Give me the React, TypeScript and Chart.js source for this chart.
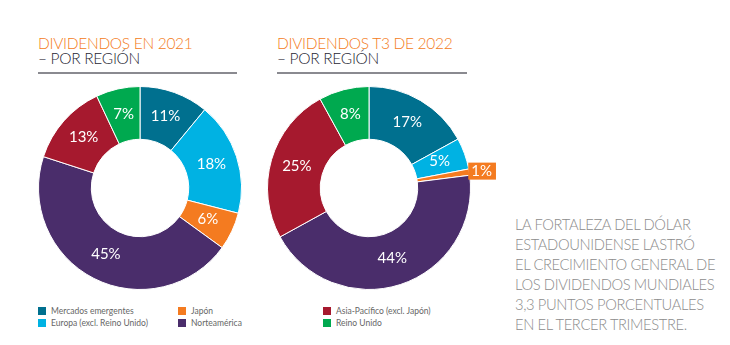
import React, { useEffect, useRef } from "react";
import { Chart, registerables } from "chart.js";

Chart.register(...registerables);

const categories = [
  "Mercados emergentes",
  "Europa (excl. Reino Unido)",
  "Japón",
  "Norteamérica",
  "Asia-Pacífico (excl. Japón)",
  "Reino Unido",
];
const values2021 = [11, 18, 6, 45, 13, 7];
const valuesQ3_2022 = [17, 5, 1, 44, 25, 8];
const colors = ["#00708f", "#00b2e3", "#f47b20", "#4a2d6b", "#a6192e", "#00a94f"];
const legendOrder = [0, 1, 2, 3, 4, 5];
const titles = [
  ["DIVIDENDOS EN 2021", "– POR REGIÓN"],
  ["DIVIDENDOS T3 DE 2022", "– POR REGIÓN"],
];
const sideText = [
  "LA FORTALEZA DEL DÓLAR",
  "ESTADOUNIDENSE LASTRÓ",
  "EL CRECIMIENTO GENERAL DE",
  "LOS DIVIDENDOS MUNDIALES",
  "3,3 PUNTOS PORCENTUALES",
  "EN EL TERCER TRIMESTRE.",
];

const FONT = "Lato, 'Open Sans', sans-serif";

const labelPlugin = {
  id: "sliceLabels",
  afterDatasetsDraw(chart: any) {
    const ctx = chart.ctx;
    const meta = chart.getDatasetMeta(0);
    const data = chart.data.datasets[0].data as number[];
    const bg = chart.data.datasets[0].backgroundColor as string[];
    ctx.save();
    ctx.font = `400 15px ${FONT}`;
    ctx.textBaseline = "middle";
    meta.data.forEach((arc: any, i: number) => {
      const v = data[i];
      const text = `${v}%`;
      if (v < 3) {
        const mid = (arc.startAngle + arc.endAngle) / 2;
        const ox = arc.x + Math.cos(mid) * arc.outerRadius;
        const oy = arc.y + Math.sin(mid) * arc.outerRadius;
        const w = ctx.measureText(text).width + 7;
        const h = 17;
        ctx.fillStyle = bg[i];
        ctx.fillRect(ox - 1, oy - h / 2 - 1, w, h);
        ctx.fillStyle = "#ffffff";
        ctx.textAlign = "left";
        ctx.fillText(text, ox + 2, oy - 1);
      } else {
        const p = arc.tooltipPosition();
        ctx.fillStyle = "#ffffff";
        ctx.textAlign = "center";
        ctx.fillText(text, p.x, p.y - 1);
      }
    });
    ctx.restore();
  },
};

function Donut({ values, left, top }: { values: number[]; left: number; top: number }) {
  const ref = useRef<HTMLCanvasElement>(null);
  useEffect(() => {
    const chart = new Chart(ref.current!, {
      type: "doughnut",
      data: {
        labels: categories,
        datasets: [
          {
            data: values,
            backgroundColor: colors,
            borderColor: "#ffffff",
            borderWidth: 1,
          },
        ],
      },
      options: {
        animation: false,
        responsive: false,
        cutout: "48%",
        layout: { padding: { right: 30 } },
        plugins: { legend: { display: false }, tooltip: { enabled: false } },
      },
      plugins: [labelPlugin],
    });
    return () => chart.destroy();
  }, [values]);
  return (
    <canvas
      ref={ref}
      width={234}
      height={204}
      style={{ position: "absolute", left, top, width: 234, height: 204 }}
    />
  );
}

function Title({ lines, left, width }: { lines: string[]; left: number; width: number }) {
  const base: React.CSSProperties = {
    fontSize: 15.5,
    lineHeight: "15px",
    fontFamily: FONT,
    fontWeight: 300,
    whiteSpace: "nowrap",
    letterSpacing: -0.3,
  };
  return (
    <div style={{ position: "absolute", left, top: 36, width }}>
      <div style={{ ...base, color: "#f47b20" }}>{lines[0]}</div>
      <div style={{ ...base, color: "#1f2633" }}>{lines[1]}</div>
      <div style={{ position: "absolute", left: 0, top: 36, width, height: 2, background: "#8a8a90" }} />
    </div>
  );
}

export default function App() {
  const cols = [38, 178, 323];
  return (
    <div style={{ position: "fixed", left: 0, top: 0, width: 730, height: 345, background: "#ffffff", overflow: "hidden" }}>
      <Title lines={titles[0]} left={38} width={199} />
      <Title lines={titles[1]} left={277} width={190} />
      <Donut values={values2021} left={38} top={86} />
      <Donut values={valuesQ3_2022} left={267} top={86} />
      {legendOrder.map((ci, k) => {
        const col = Math.floor(k / 2);
        const row = k % 2;
        return (
          <div
            key={ci}
            style={{
              position: "absolute",
              left: cols[col],
              top: 306 + row * 11.5,
              height: 10,
              display: "flex",
              alignItems: "center",
              fontFamily: FONT,
              fontSize: 8.5,
              color: "#666666",
              whiteSpace: "nowrap",
            }}
          >
            <span style={{ display: "inline-block", width: 8, height: 8, background: colors[ci], marginRight: 5 }} />
            {categories[ci]}
          </div>
        );
      })}
      <div
        style={{
          position: "absolute",
          left: 515,
          top: 214,
          fontFamily: FONT,
          fontWeight: 300,
          fontSize: 16,
          lineHeight: "20px",
          color: "#8c8c8c",
          whiteSpace: "nowrap",
          letterSpacing: -0.4,
          transform: "scaleX(0.92)",
          transformOrigin: "left top",
        }}
      >
        {sideText.map((t) => (
          <div key={t}>{t}</div>
        ))}
      </div>
    </div>
  );
}
